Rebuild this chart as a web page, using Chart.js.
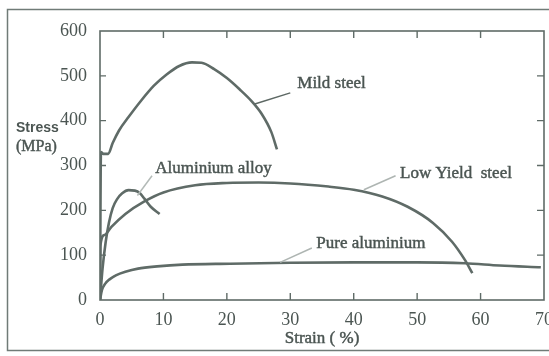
<!DOCTYPE html>
<html><head><meta charset="utf-8">
<script src="https://cdn.jsdelivr.net/npm/chart.js@4/dist/chart.umd.min.js"></script>
<style>html,body{margin:0;padding:0;background:#fff;}#wrap{width:549px;height:356px;position:relative;}</style>
</head><body><div id="wrap"><canvas id="c" width="549" height="356"></canvas></div>
<script>
// Data (strain %, stress MPa)
const mildSteelX = [0, 0.15, 0.5, 1.3, 2.0, 3.0, 4.5, 6.5, 8.5, 10.5, 12.5, 14.5, 16.0, 18.0, 20.0, 22.0, 24.0, 25.5, 27.0, 27.9];
const mildSteelY = [0, 330, 326, 326, 350, 378, 408, 445, 478, 503, 522, 530, 529, 515, 495, 470, 442, 415, 375, 336];
const alloyX = [0, 0.4, 0.9, 1.4, 2.0, 2.7, 3.5, 4.5, 5.5, 6.3, 7.0, 8.0, 9.4];
const alloyY = [0, 70, 130, 172, 205, 225, 238, 245, 244, 238, 226, 208, 192];
const lowYieldX = [0, 0.05, 0.7, 1.8, 4.0, 7.0, 10.0, 15.0, 20.0, 25.0, 30.0, 36.0, 40.0, 44.5, 48.5, 52.5, 55.5, 57.5, 58.7];
const lowYieldY = [0, 120, 145, 163, 192, 220, 240, 256, 261, 262, 260, 253, 246, 231, 208, 172, 130, 90, 60];
const pureAlX = [0, 0.3, 0.8, 1.5, 2.5, 4.0, 6.0, 9.0, 13.0, 20.5, 30.0, 40.0, 50.0, 57.5, 63.0, 69.5];
const pureAlY = [0, 22, 36, 46, 55, 63, 70, 75, 79, 81, 83, 84, 84, 82, 77, 73];
const xTicks = [0, 10, 20, 30, 40, 50, 60, 70];
const yTicks = [0, 100, 200, 300, 400, 500, 600];
const seriesNames = ["Mild steel", "Aluminium alloy", "Low Yield  steel", "Pure aluminium"];
// label anchor (data coords) and leader line endpoints (data coords)
const labelX = [31.1, 8.7, 47.3, 34.1];
const labelY = [473, 284, 273, 117];
const leaderFromX = [24.4, 5.9, 41.6, 28.4];
const leaderFromY = [437, 233, 246, 84];
const leaderToX = [30.0, 8.2, 46.6, 33.4];
const leaderToY = [462, 277, 277, 116];
const leaderColor = ["#5d6864", "#b3bab7", "#aeb5b2", "#aeb5b2"];

const LINE = "#5f6b67";
const TEXT = "#4b5552";
const SERIF = "'Liberation Serif', 'Times New Roman', serif";
function pts(xs, ys){ return xs.map((x,i)=>({x:x, y:ys[i]})); }
const ds = (xs, ys) => ({data: pts(xs, ys), borderColor: LINE, borderWidth: 2.6, pointRadius: 0, fill: false, tension: 0.4, cubicInterpolationMode: 'monotone'});

function heavyText(ctx, t, x, y){ ctx.fillText(t, x, y); ctx.lineWidth = 0.45; ctx.strokeStyle = TEXT; ctx.strokeText(t, x, y); }

const decor = {
  id: 'decor',
  afterDraw(chart){
    const ctx = chart.ctx, xs = chart.scales.x, ys = chart.scales.y, a = chart.chartArea;
    ctx.save();
    // outer frame
    ctx.strokeStyle = "#707b77"; ctx.lineWidth = 1.5;
    ctx.beginPath(); ctx.moveTo(549, 9.5); ctx.lineTo(7.5, 9.5); ctx.lineTo(7.5, 350.5); ctx.lineTo(549, 350.5); ctx.stroke();
    // plot box
    ctx.strokeStyle = LINE; ctx.lineWidth = 1.6;
    ctx.strokeRect(a.left, a.top, a.right - a.left, a.bottom - a.top);
    // inward ticks
    ctx.lineWidth = 1.4;
    xTicks.slice(1, -1).forEach(v => {
      const p = xs.getPixelForValue(v);
      ctx.beginPath(); ctx.moveTo(p, a.bottom); ctx.lineTo(p, a.bottom - 7);
      ctx.moveTo(p, a.top); ctx.lineTo(p, a.top + 7); ctx.stroke();
    });
    yTicks.slice(1, -1).forEach(v => {
      const p = ys.getPixelForValue(v);
      ctx.beginPath(); ctx.moveTo(a.left, p); ctx.lineTo(a.left + 6, p);
      ctx.moveTo(a.right, p); ctx.lineTo(a.right - 7, p); ctx.stroke();
    });
    // leaders
    ctx.lineWidth = 1.5;
    for (let i = 0; i < seriesNames.length; i++) {
      ctx.strokeStyle = leaderColor[i];
      ctx.beginPath();
      ctx.moveTo(xs.getPixelForValue(leaderFromX[i]), ys.getPixelForValue(leaderFromY[i]));
      ctx.lineTo(xs.getPixelForValue(leaderToX[i]), ys.getPixelForValue(leaderToY[i]));
      ctx.stroke();
    }
    // series labels
    ctx.fillStyle = TEXT; ctx.textBaseline = 'alphabetic'; ctx.textAlign = 'left';
    ctx.font = '17px ' + SERIF;
    for (let i = 0; i < seriesNames.length; i++) {
      heavyText(ctx, seriesNames[i], xs.getPixelForValue(labelX[i]), ys.getPixelForValue(labelY[i]));
    }
    // axis titles
    ctx.font = 'bold 14px "Liberation Sans", Arial, sans-serif';
    ctx.fillText("Stress", 16, 132);
    ctx.font = '16px ' + SERIF;
    heavyText(ctx, "(MPa)", 16, 151);
    ctx.textAlign = 'center';
    ctx.font = '17px ' + SERIF;
    heavyText(ctx, "Strain ( %)", (a.left + a.right) / 2, 343);
    ctx.restore();
  }
};

new Chart(document.getElementById('c'), {
  type: 'line',
  data: { datasets: [ds(mildSteelX, mildSteelY), ds(alloyX, alloyY), ds(lowYieldX, lowYieldY), ds(pureAlX, pureAlY)] },
  options: {
    responsive: false, animation: false,
    layout: { padding: { top: 31, right: 5, left: 0, bottom: 0 } },
    plugins: { legend: { display: false }, tooltip: { enabled: false } },
    scales: {
      x: {
        type: 'linear', min: 0, max: 70,
        afterBuildTicks(s){ s.ticks = xTicks.map(v => ({value: v})); },
        afterFit(s){ s.height = 56; s.paddingLeft = 0; s.paddingRight = 0; },
        grid: { display: false }, border: { display: false },
        ticks: { padding: 1, color: TEXT, font: { family: SERIF, size: 18 }, maxRotation: 0, autoSkip: false }
      },
      y: {
        type: 'linear', min: 0, max: 600,
        afterBuildTicks(s){ s.ticks = yTicks.map(v => ({value: v})); },
        afterFit(s){ s.width = 100; s.paddingTop = 0; s.paddingBottom = 0; },
        grid: { display: false }, border: { display: false },
        ticks: { padding: 5, color: TEXT, font: { family: SERIF, size: 18 }, autoSkip: false }
      }
    }
  },
  plugins: [decor]
});
</script></body></html>
